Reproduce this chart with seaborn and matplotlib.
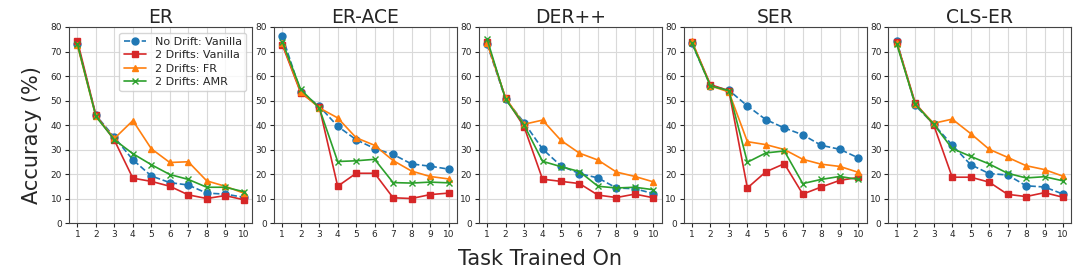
"""Accuracy per task for five replay methods under concept drift."""

import matplotlib
matplotlib.use("Agg")
import matplotlib.pyplot as plt
import pandas as pd
import seaborn as sns

TASKS = list(range(1, 11))
METHODS = ["ER", "ER-ACE", "DER++", "SER", "CLS-ER"]
SERIES = ["No Drift: Vanilla", "2 Drifts: Vanilla", "2 Drifts: FR", "2 Drifts: AMR"]

# accuracy (%) read per method, one list per series
er_no_drift = [73.0, 44.0, 35.0, 25.8, 19.2, 16.5, 15.5, 12.2, 11.8, 10.5]
er_drift_vanilla = [74.3, 44.0, 33.8, 18.3, 17.0, 15.0, 11.5, 10.0, 11.2, 9.5]
er_drift_fr = [72.5, 43.5, 34.5, 41.8, 30.3, 24.7, 25.0, 17.2, 15.0, 12.2]
er_drift_amr = [73.0, 43.5, 34.0, 28.3, 23.8, 19.8, 17.8, 14.6, 14.6, 12.8]

erace_no_drift = [76.2, 53.5, 47.7, 39.5, 34.0, 30.4, 28.0, 24.1, 23.2, 22.0]
erace_drift_vanilla = [72.8, 53.1, 47.5, 15.0, 20.3, 20.3, 10.3, 10.0, 11.6, 12.2]
erace_drift_fr = [73.5, 53.5, 47.0, 42.9, 34.8, 31.7, 25.5, 21.2, 19.0, 18.0]
erace_drift_amr = [74.0, 54.5, 47.0, 25.1, 25.4, 26.0, 16.5, 16.3, 16.7, 16.4]

der_no_drift = [73.0, 50.5, 41.0, 30.2, 23.3, 20.2, 18.4, 14.3, 14.0, 12.0]
der_drift_vanilla = [73.8, 51.0, 39.3, 17.9, 17.0, 16.1, 11.4, 10.4, 11.8, 10.3]
der_drift_fr = [73.5, 51.0, 40.3, 42.0, 33.7, 28.5, 25.7, 20.8, 19.0, 16.8]
der_drift_amr = [75.0, 50.5, 40.0, 25.2, 23.0, 21.0, 15.0, 14.3, 14.6, 13.6]

ser_no_drift = [73.3, 56.0, 54.2, 47.8, 42.2, 38.8, 36.0, 31.7, 30.1, 26.6]
ser_drift_vanilla = [74.0, 56.5, 54.0, 14.3, 20.9, 24.2, 11.8, 14.7, 17.4, 18.6]
ser_drift_fr = [74.2, 56.0, 53.5, 33.2, 32.0, 30.0, 26.0, 24.0, 23.1, 20.7]
ser_drift_amr = [73.5, 56.0, 54.0, 24.8, 28.6, 29.4, 16.1, 17.8, 19.0, 17.8]

clser_no_drift = [74.2, 48.0, 40.3, 31.8, 23.8, 20.2, 19.6, 15.2, 14.7, 11.8]
clser_drift_vanilla = [73.8, 49.0, 40.0, 18.7, 18.7, 16.7, 11.7, 10.8, 12.4, 10.5]
clser_drift_fr = [73.5, 48.5, 40.7, 42.4, 36.5, 30.1, 26.8, 23.4, 21.8, 19.1]
clser_drift_amr = [73.0, 48.5, 40.3, 30.4, 27.2, 24.1, 20.3, 18.4, 18.9, 17.2]

DATA = {
    "ER": [er_no_drift, er_drift_vanilla, er_drift_fr, er_drift_amr],
    "ER-ACE": [erace_no_drift, erace_drift_vanilla, erace_drift_fr, erace_drift_amr],
    "DER++": [der_no_drift, der_drift_vanilla, der_drift_fr, der_drift_amr],
    "SER": [ser_no_drift, ser_drift_vanilla, ser_drift_fr, ser_drift_amr],
    "CLS-ER": [clser_no_drift, clser_drift_vanilla, clser_drift_fr, clser_drift_amr],
}

COLORS = ["#1f77b4", "#d62728", "#ff7f0e", "#2ca02c"]
MARKERS = ["o", "s", "^", "x"]
LINESTYLES = ["--", "-", "-", "-"]

sns.set_style("ticks")
plt.rcParams["font.family"] = ["DejaVu Sans"]

fig, axes = plt.subplots(1, 5, figsize=(10.8, 2.7), dpi=100)
fig.subplots_adjust(left=0.064, right=0.992, top=0.9, bottom=0.174, wspace=0.12)

for ax, method in zip(axes, METHODS):
    rows = []
    for name, vals in zip(SERIES, DATA[method]):
        for t, v in zip(TASKS, vals):
            rows.append({"task": t, "acc": v, "series": name})
    df = pd.DataFrame(rows)
    for i, name in enumerate(SERIES):
        sub = df[df["series"] == name]
        sns.lineplot(data=sub, x="task", y="acc", ax=ax, label=name,
                     color=COLORS[i], marker=MARKERS[i], linestyle=LINESTYLES[i],
                     linewidth=1.2, markersize=5, markeredgewidth=1.0,
                     markeredgecolor=COLORS[i], markerfacecolor=COLORS[i])
    ax.set_title(method, fontsize=13.5, pad=3)
    ax.set_ylim(0, 80)
    ax.set_xticks(TASKS)
    ax.set_yticks(range(0, 81, 10))
    ax.tick_params(labelsize=6.5, length=3, pad=2)
    ax.grid(True, color="#d9d9d9", linewidth=0.8)
    ax.set_xlabel("")
    ax.set_ylabel("")
    for s in ax.spines.values():
        s.set_color("#444444")
    if method == "ER":
        ax.legend(loc="upper right", fontsize=8, frameon=True,
                  handlelength=2.0, borderpad=0.4, labelspacing=0.3)
    else:
        ax.get_legend().remove()

fig.supylabel("Accuracy (%)", fontsize=15, x=0.02)
fig.supxlabel("Task Trained On", fontsize=15, y=0.005)

plt.savefig("out.png", dpi=100)
plt.close()
